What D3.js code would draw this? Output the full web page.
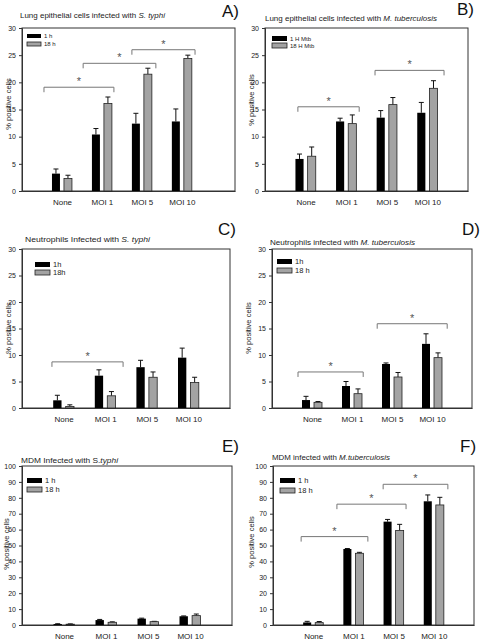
<!DOCTYPE html>
<html><head><meta charset="utf-8">
<script src="https://cdn.jsdelivr.net/npm/d3@7"></script>
<style>body{margin:0;background:#fff}svg{display:block}text{font-family:"Liberation Sans",Arial,sans-serif}</style>
</head><body><svg id="c" width="480" height="640"></svg>
<script>
// ---- data ----
const categories = ["None", "MOI 1", "MOI 5", "MOI 10"];
const ticks30 = [0, 5, 10, 15, 20, 25, 30];
const ticks100 = [0, 10, 20, 30, 40, 50, 60, 70, 80, 90, 100];

const A1h = [3.2, 10.4, 12.4, 12.8],  A1hErr = [0.85, 1.1, 1.9, 2.3];
const A18h = [2.3, 16.1, 21.5, 24.4], A18hErr = [0.6, 1.2, 1.1, 0.6];
const B1h = [5.9, 12.8, 13.5, 14.4],  B1hErr = [0.9, 0.6, 1.3, 1.9];
const B18h = [6.4, 12.4, 15.9, 18.9], B18hErr = [1.7, 1.6, 1.3, 1.4];
const C1h = [1.45, 6.1, 7.7, 9.5],    C1hErr = [0.95, 1.1, 1.3, 1.8];
const C18h = [0.3, 2.3, 5.8, 4.8],    C18hErr = [0.3, 0.8, 1.0, 1.0];
const D1h = [1.5, 4.15, 8.3, 12.1],   D1hErr = [0.7, 0.85, 0.2, 1.9];
const D18h = [1.07, 2.7, 5.85, 9.5],  D18hErr = [0.15, 0.9, 0.85, 0.9];
const E1h = [0.6, 3.1, 4.0, 5.5],     E1hErr = [0.2, 0.4, 0.3, 0.2];
const E18h = [0.5, 1.7, 2.1, 5.9],    E18hErr = [0.2, 0.3, 0.2, 1.0];
const F1h = [1.6, 47.8, 65.0, 77.8],  F1hErr = [0.7, 0.3, 1.4, 4.0];
const F18h = [1.5, 45.1, 59.5, 75.5], F18hErr = [0.7, 0.6, 3.8, 4.8];

// significance brackets: [from (category units), to, y value]
const bracketsA = [[0.55, 2.3, 19.1], [1.53, 3.35, 23.5], [2.75, 4.33, 26]];
const bracketsB = [[0.81, 2.32, 15.5], [2.71, 4.41, 22.2]];
const bracketsC = [[0.72, 2.43, 8.7]];
const bracketsD = [[0.65, 2.28, 6.8], [2.63, 4.38, 15.9]];
const bracketsE = [];
const bracketsF = [[0.70, 2.36, 55.6], [1.59, 3.31, 76], [2.74, 4.35, 88.5]];

const legendA = ["1 h", "18 h"], legendB = ["1 H Mtb", "18 H Mtb"], legendC = ["1h", "18h"];
const legendD = ["1h", "18 h"], legendE = ["1 h", "18 h"], legendF = ["1 h", "18 h"];

const titleA = ["Lung epithelial cells infected with ", "S. typhi"];
const titleB = ["Lung epithelial cells infected with ", "M. tuberculosis"];
const titleC = ["Neutrophils Infected with ", "S. typhi"];
const titleD = ["Neutrophils infected with ", "M. tuberculosis"];
const titleE = ["MDM Infected with S.", "typhi"];
const titleF = ["MDM infected with ", "M.tuberculosis"];
const yLabel = "% positive cells";

// ---- layout ----
const panels = [
  {letter:"A)", L:22, R:235, T:28, B:191, xMax:5.33, ticks:ticks30, v1:A1h, e1:A1hErr, v2:A18h, e2:A18hErr, leg:legendA, br:bracketsA, title:titleA,
   tx:20, ty:18, tw:145, lx:222, ly:17, legX:27, legY:34, legW:14, legH:4, legGap:8, legFs:6, ylx:8, yly:104},
  {letter:"B)", L:265, R:468, T:28, B:191, xMax:5, ticks:ticks30, v1:B1h, e1:B1hErr, v2:B18h, e2:B18hErr, leg:legendB, br:bracketsB, title:titleB,
   tx:265, ty:21, tw:172, lx:457, ly:15, legX:272, legY:36, legW:15, legH:5, legGap:7, legFs:6, ylx:251, yly:100},
  {letter:"C)", L:22, R:230, T:249, B:408, xMax:5, ticks:ticks30, v1:C1h, e1:C1hErr, v2:C18h, e2:C18hErr, leg:legendC, br:bracketsC, title:titleC,
   tx:25, ty:242, tw:125, lx:218, ly:235, legX:35, legY:262, legW:15, legH:5, legGap:8, legFs:7.5, ylx:8, yly:328},
  {letter:"D)", L:272, R:472, T:249, B:408, xMax:5, ticks:ticks30, v1:D1h, e1:D1hErr, v2:D18h, e2:D18hErr, leg:legendD, br:bracketsD, title:titleD,
   tx:270, ty:245, tw:145, lx:462, ly:235, legX:277, legY:259, legW:15, legH:5, legGap:9, legFs:7.5, ylx:248, yly:328},
  {letter:"E)", L:22, R:232, T:466, B:625, xMax:5, ticks:ticks100, v1:E1h, e1:E1hErr, v2:E18h, e2:E18hErr, leg:legendE, br:bracketsE, title:titleE,
   tx:21, ty:463, tw:97, lx:222, ly:452, legX:27, legY:478, legW:15, legH:5, legGap:9, legFs:7.5, ylx:6, yly:544},
  {letter:"F)", L:273, R:474, T:466, B:625, xMax:5, ticks:ticks100, v1:F1h, e1:F1hErr, v2:F18h, e2:F18hErr, leg:legendF, br:bracketsF, title:titleF,
   tx:272, ty:460, tw:118, lx:460, ly:452, legX:280, legY:478, legW:15, legH:5, legGap:10, legFs:7.5, ylx:251, yly:542}
];

const svg = d3.select("#c");
const GRAY = "#a3a3a3", AX = "#333";

panels.forEach(p => {
  const g = svg.append("g");
  const yMax = p.ticks[p.ticks.length - 1];
  const x = d3.scaleLinear().domain([0, p.xMax]).range([p.L, p.R]);
  const y = d3.scaleLinear().domain([0, yMax]).range([p.B, p.T]);
  const unit = x(1) - x(0);
  const bw = unit * 0.2, off = unit * 0.15;

  // frame
  g.append("rect").attr("x", p.L).attr("y", p.T).attr("width", p.R - p.L).attr("height", p.B - p.T)
    .attr("fill", "none").attr("stroke", AX).attr("stroke-width", 1);

  // y axis
  const ya = g.append("g").attr("transform", `translate(${p.L},0)`)
    .call(d3.axisLeft(y).tickValues(p.ticks).tickSize(3).tickPadding(3).tickFormat(d3.format("d")));
  ya.select(".domain").attr("stroke", AX);
  ya.selectAll(".tick line").attr("stroke", AX);
  ya.selectAll(".tick text").attr("font-size", 7).attr("fill", "#222").attr("font-family", '"Liberation Sans",Arial,sans-serif');

  // x axis labels
  const xa = g.append("g").attr("transform", `translate(0,${p.B})`)
    .call(d3.axisBottom(x).tickValues([1, 2, 3, 4]).tickSize(0).tickPadding(8).tickFormat(d => categories[d - 1]));
  xa.select(".domain").attr("stroke", AX);
  xa.selectAll(".tick text").attr("font-size", 8).attr("fill", "#222").attr("font-family", '"Liberation Sans",Arial,sans-serif');

  // bars
  const series = [{v: p.v1, e: p.e1, fill: "#000", dx: -off}, {v: p.v2, e: p.e2, fill: GRAY, dx: off}];
  series.forEach(s => {
    s.v.forEach((val, i) => {
      const cx = x(i + 1) + s.dx;
      const top = y(val + s.e[i]);
      g.append("line").attr("x1", cx).attr("x2", cx).attr("y1", y(val)).attr("y2", top).attr("stroke", "#111").attr("stroke-width", 1);
      g.append("line").attr("x1", cx - 2.5).attr("x2", cx + 2.5).attr("y1", top).attr("y2", top).attr("stroke", "#111").attr("stroke-width", 1);
      g.append("rect").attr("x", cx - bw / 2).attr("y", y(val)).attr("width", bw).attr("height", p.B - y(val))
        .attr("fill", s.fill).attr("stroke", "#222").attr("stroke-width", s.fill === "#000" ? 0 : 0.8);
    });
  });

  // brackets
  p.br.forEach(b => {
    const x1 = x(b[0]), x2 = x(b[1]), yy = y(b[2]);
    g.append("path").attr("d", `M${x1},${yy + 5}V${yy}H${x2}V${yy + 5}`)
      .attr("fill", "none").attr("stroke", "#777").attr("stroke-width", 1);
    g.append("text").attr("x", (x1 + x2) / 2).attr("y", yy - 2).attr("text-anchor", "middle")
      .attr("font-size", 11).attr("fill", "#555").text("*");
  });

  // legend
  [0, 1].forEach(k => {
    const ly = p.legY + k * p.legGap;
    g.append("rect").attr("x", p.legX).attr("y", ly).attr("width", p.legW).attr("height", p.legH)
      .attr("fill", k === 0 ? "#000" : GRAY).attr("stroke", "#222").attr("stroke-width", k === 0 ? 0 : 0.8);
    g.append("text").attr("x", p.legX + p.legW + 3).attr("y", ly + p.legH / 2).attr("dy", "0.35em")
      .attr("font-size", p.legFs).attr("fill", "#222").text(p.leg[k]);
  });

  // title
  const t = g.append("text").attr("x", p.tx).attr("y", p.ty).attr("font-size", 8).attr("fill", "#222")
    .attr("textLength", p.tw).attr("lengthAdjust", "spacingAndGlyphs");
  t.append("tspan").text(p.title[0]);
  t.append("tspan").attr("font-style", "italic").text(p.title[1]);

  // panel letter
  g.append("text").attr("x", p.lx).attr("y", p.ly).attr("font-size", 17).attr("fill", "#111").text(p.letter);

  // y label
  g.append("text").attr("transform", `translate(${p.ylx},${p.yly}) rotate(-90)`).attr("text-anchor", "middle")
    .attr("dy", "0.35em").attr("font-size", 7.5).attr("fill", "#222").text(yLabel);
});
</script></body></html>
